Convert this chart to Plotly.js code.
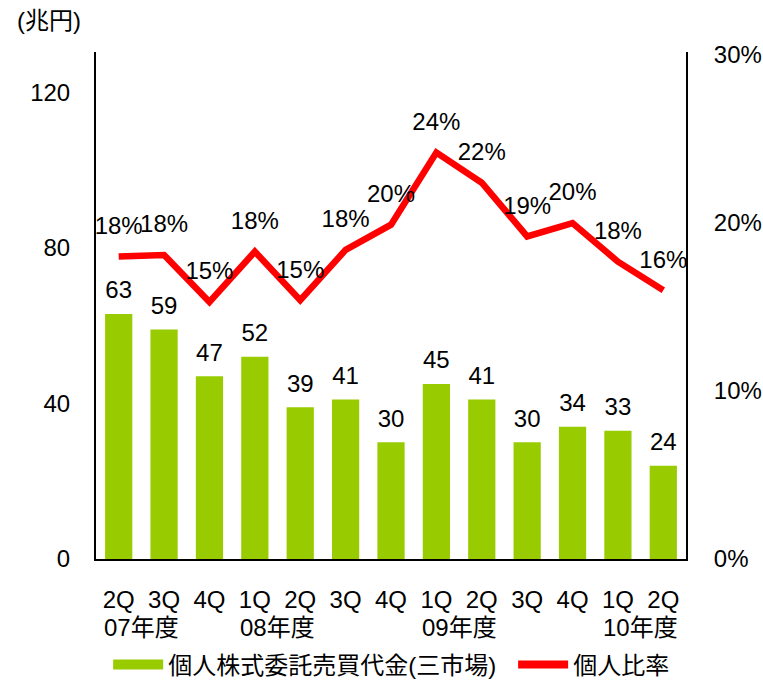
<!DOCTYPE html>
<html>
<head>
<meta charset="utf-8">
<script src="https://cdn.plot.ly/plotly-3.0.1.min.js"></script>
<style>
  body { margin: 0; background: #fff; }
  #chart { width: 763px; height: 681px; }
</style>
</head>
<body>
<div id="chart"></div>
<script>
// quarters (x axis)
var quarters = ["2Q", "3Q", "4Q", "1Q", "2Q", "3Q", "4Q", "1Q", "2Q", "3Q", "4Q", "1Q", "2Q"];
var fiscalYears = ["07年度", "08年度", "09年度", "10年度"];
var yearPos = [0.5, 3.5, 7.5, 11.5];

// 個人株式委託売買代金(三市場), 兆円
var tradingValue = [63, 59, 47, 52, 39, 41, 30, 45, 41, 30, 34, 33, 24];
// 個人比率
var individualRatio = [0.180, 0.181, 0.153, 0.183, 0.154, 0.184, 0.199, 0.242, 0.224, 0.192, 0.200, 0.177, 0.160];

var FONT = 'Arial, "Liberation Sans", "Noto Sans CJK JP", sans-serif';
var SIZE = 24;
var GREEN = "#99cc00";
var RED = "#ff0000";
var idx = quarters.map(function (q, i) { return i; });

var barTrace = {
  x: idx,
  y: tradingValue,
  name: "個人株式委託売買代金(三市場)",
  type: "bar",
  width: 0.6,
  marker: { color: GREEN },
  showlegend: false,
  hoverinfo: "y"
};

// value labels above the bars
var barLabels = {
  x: idx,
  y: tradingValue,
  type: "scatter",
  mode: "markers+text",
  marker: { size: 14, color: "rgba(0,0,0,0)" },
  text: tradingValue.map(String),
  textposition: "top center",
  textfont: { family: FONT, size: SIZE, color: "#000" },
  cliponaxis: false,
  showlegend: false,
  hoverinfo: "skip"
};

var lineTrace = {
  x: idx,
  y: individualRatio,
  yaxis: "y2",
  name: "個人比率",
  type: "scatter",
  mode: "lines+markers+text",
  line: { color: RED, width: 6.5 },
  marker: { size: 25, color: "rgba(0,0,0,0)" },
  texttemplate: "%{y:.0%}",
  textposition: "top center",
  textfont: { family: FONT, size: SIZE, color: "#000" },
  cliponaxis: false,
  showlegend: false
};

// legend entries (wide swatches like the original)
var barKey = {
  x: [null], y: [null], type: "scatter", mode: "lines",
  name: "個人株式委託売買代金(三市場)",
  line: { color: GREEN, width: 10 },
  legend: "legend"
};
var lineKey = {
  x: [null], y: [null], yaxis: "y2", type: "scatter", mode: "lines",
  name: "個人比率",
  line: { color: RED, width: 8 },
  legend: "legend2"
};

var annotations = fiscalYears.map(function (t, i) {
  return {
    text: t, x: yearPos[i], xref: "x", y: -0.135, yref: "paper",
    showarrow: false, font: { family: FONT, size: SIZE, color: "#000" },
    xanchor: "center", yanchor: "middle"
  };
});
annotations.push({
  text: "(兆円)", x: -0.137, xref: "paper", y: 1.063, yref: "paper",
  showarrow: false, xanchor: "left", yanchor: "middle",
  font: { family: FONT, size: SIZE, color: "#000" }
});

var legendBase = {
  orientation: "h", xanchor: "left",
  yref: "container", y: 0.0235, yanchor: "middle",
  font: { family: FONT, size: SIZE, color: "#000" }, itemwidth: 50
};

var layout = {
  width: 763,
  height: 681,
  margin: { l: 96, r: 77, t: 52, b: 122 },
  paper_bgcolor: "#fff",
  plot_bgcolor: "#fff",
  font: { family: FONT, size: SIZE, color: "#000" },
  showlegend: true,
  legend: Object.assign({}, legendBase, { x: 0.0206 }),
  legend2: Object.assign({}, legendBase, { x: 0.707 }),
  xaxis: {
    type: "linear",
    range: [-0.5, 12.5],
    tickmode: "array",
    tickvals: idx,
    ticktext: quarters,
    showgrid: false,
    zeroline: false,
    showline: true,
    linecolor: "#000",
    linewidth: 2,
    ticks: "",
    ticklabelstandoff: 18,
    fixedrange: true
  },
  yaxis: {
    range: [0, 130.4],
    tickvals: [0, 40, 80, 120],
    showgrid: false,
    zeroline: false,
    showline: true,
    linecolor: "#000",
    linewidth: 2,
    ticks: "",
    ticklabelstandoff: 19,
    fixedrange: true
  },
  yaxis2: {
    overlaying: "y",
    side: "right",
    range: [0, 0.3018],
    tickvals: [0, 0.1, 0.2, 0.3],
    tickformat: ".0%",
    showgrid: false,
    zeroline: false,
    showline: true,
    linecolor: "#000",
    linewidth: 2,
    ticks: "",
    ticklabelstandoff: 21,
    fixedrange: true
  },
  annotations: annotations
};

Plotly.newPlot("chart", [barTrace, barLabels, lineTrace, barKey, lineKey], layout, { displayModeBar: false, staticPlot: true });
</script>
</body>
</html>
